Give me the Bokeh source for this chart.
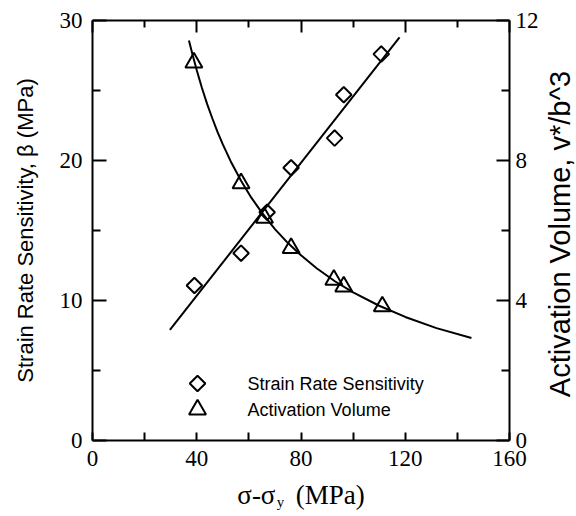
import numpy as np
from bokeh.plotting import figure
from bokeh.models import Range1d, LinearAxis, FixedTicker, Label
from bokeh.embed import file_html
from bokeh.resources import INLINE
from bokeh.core.properties import value

# ---- data ----
stress_srs = [39.1, 57.0, 67.0, 76.2, 92.9, 96.4, 110.8]
beta_srs = [11.07, 13.38, 16.3, 19.48, 21.6, 24.7, 27.6]

stress_av = [38.9, 57.0, 66.0, 76.2, 92.6, 96.4, 111.2]
vol_av = [10.8, 7.35, 6.36, 5.5, 4.59, 4.4, 3.83]

fit_line_x = [29.7, 117.8]
fit_line_beta = [7.9, 28.8]

fit_curve_x = [37.0, 38.5, 40.0, 42.0, 44.0, 46.0, 48.0, 50.0, 53.0, 57.0, 61.0, 65.0, 70.0,
               75.0, 80.0, 86.0, 93.0, 100.0, 110.0, 120.0, 132.0, 145.4]
fit_curve_vol = [11.43, 10.99, 10.58, 10.07, 9.61, 9.2, 8.81, 8.46, 7.98, 7.42, 6.93, 6.51, 6.04,
                 5.64, 5.29, 4.92, 4.55, 4.23, 3.85, 3.53, 3.21, 2.93]

legend_labels = ["Strain Rate Sensitivity", "Activation Volume"]

x_ticks = [0, 40, 80, 120, 160]
x_minor = [20, 60, 100, 140]
beta_ticks = [0, 10, 20, 30]
beta_minor = [5, 15, 25]
vol_ticks = [0, 4, 8, 12]
vol_minor = [2, 6, 10]

SERIF = "Liberation Serif"
SANS = "Liberation Sans"
NB = "\u00a0"

p = figure(width=576, height=516, output_backend="svg", toolbar_location=None,
           x_range=Range1d(0, 160), y_range=Range1d(0, 30),
           min_border_left=92, min_border_right=67, min_border_top=20, min_border_bottom=76)
p.extra_y_ranges = {"vol": Range1d(0, 12)}
p.grid.visible = False
p.outline_line_color = None
p.background_fill_color = "white"
p.border_fill_color = "white"

bottom_axis = p.below[0]
left_axis = p.left[0]
top_axis = LinearAxis()
right_axis = LinearAxis(y_range_name="vol")
p.add_layout(top_axis, "above")
p.add_layout(right_axis, "right")


def style(ax, ticks, minor, tin, mtin, standoff=8):
    ax.ticker = FixedTicker(ticks=ticks, minor_ticks=minor)
    ax.axis_line_width = 2
    ax.axis_line_color = "black"
    ax.major_tick_line_width = 2
    ax.minor_tick_line_width = 2
    ax.major_tick_line_color = "black"
    ax.minor_tick_line_color = "black"
    ax.major_tick_in = tin
    ax.major_tick_out = 0
    ax.minor_tick_in = mtin
    ax.minor_tick_out = 0
    ax.major_label_text_font = SERIF
    ax.major_label_text_font_size = "23px"
    ax.major_label_text_color = "black"
    ax.major_label_standoff = standoff


style(bottom_axis, x_ticks, x_minor, 8, 8, 10)
style(top_axis, x_ticks, x_minor, 12, 7, 0)
top_axis.major_label_overrides = {t: "" for t in x_ticks}
top_axis.major_label_text_font_size = "0px"
style(left_axis, beta_ticks, beta_minor, 14, 8, 10)
style(right_axis, vol_ticks, vol_minor, 13, 8, 6)

left_axis.axis_label = "Strain Rate Sensitivity, β (MPa)"
left_axis.axis_label_text_font = SANS
left_axis.axis_label_text_font_size = "22px"
left_axis.axis_label_text_font_style = "normal"
left_axis.axis_label_text_color = "black"
left_axis.axis_label_standoff = 19

bottom_axis.axis_label = "σ-σ" + NB * 3 + "(MPa)"
bottom_axis.axis_label_text_font = SERIF
bottom_axis.axis_label_text_font_size = "27px"
bottom_axis.axis_label_text_font_style = "normal"
bottom_axis.axis_label_text_color = "black"
bottom_axis.axis_label_standoff = 11

# second (invisible) bottom axis carrying the subscript "y"
sub_axis = LinearAxis(ticker=FixedTicker(ticks=[]), axis_line_color=None,
                      major_tick_line_color=None, minor_tick_line_color=None,
                      major_label_text_font_size="0px")
sub_axis.axis_label = "y" + NB * 11
sub_axis.axis_label_text_font = SERIF
sub_axis.axis_label_text_font_size = "15px"
sub_axis.axis_label_text_font_style = "normal"
sub_axis.axis_label_text_color = "black"
sub_axis.axis_label_standoff = -19
p.add_layout(sub_axis, "below")

# right axis title (reads bottom-to-top), placed in the right side panel
right_title = Label(x=179.2, y=14.75, text="Activation Volume, v*/b^3", angle=np.pi / 2,
                    text_align="center", text_baseline="middle", text_font=SANS,
                    text_font_size="29px", text_color="black")
p.add_layout(right_title, "right")

# fits
p.line(fit_line_x, fit_line_beta, line_color="black", line_width=2)
p.line(fit_curve_x, fit_curve_vol, line_color="black", line_width=2, y_range_name="vol")

# data points
p.scatter(stress_srs, beta_srs, marker="square", angle=np.pi / 4, size=11,
          fill_color=None, line_color="black", line_width=2)
p.scatter(stress_av, vol_av, marker="triangle", size=17,
          fill_color=None, line_color="black", line_width=2, y_range_name="vol")

# legend (drawn as marks + text in the frame)
LEG_X, LEG_TX, LEG_Y1, LEG_Y2 = 40.3, 59.5, 4.07, 2.21
p.scatter([LEG_X], [LEG_Y1], marker="square", angle=np.pi / 4, size=11,
          fill_color=None, line_color="black", line_width=2)
p.scatter([LEG_X], [LEG_Y2], marker="triangle", size=17,
          fill_color=None, line_color="black", line_width=2)
p.text([LEG_TX, LEG_TX], [LEG_Y1, LEG_Y2], text=legend_labels,
       text_font=value(SANS), text_font_size="18px", text_baseline="middle",
       text_align="left", text_color="black")

open("out.html", "w").write(file_html(p, INLINE))
